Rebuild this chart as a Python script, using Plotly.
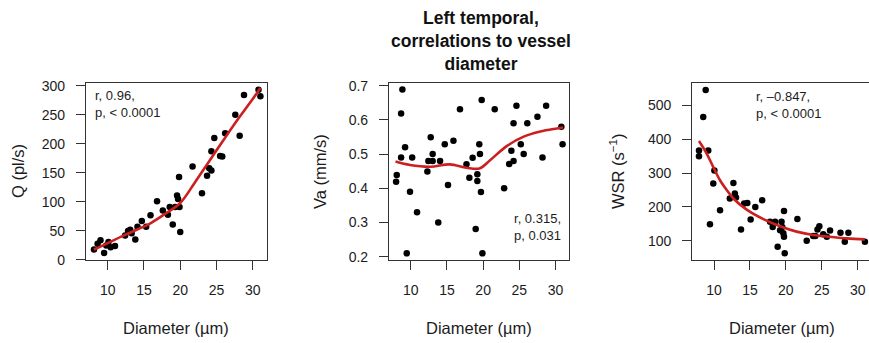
import plotly.graph_objects as go

# ---------------- data ----------------
diam_q = [8.1, 8.6, 9.0, 9.5, 9.8, 10.1, 10.4, 11.0, 12.4, 12.8, 13.1, 13.3, 13.8, 14.1,
          14.7, 15.3, 15.9, 16.8, 17.6, 18.3, 18.55, 18.97, 19.3, 19.56, 19.7, 19.84, 19.9,
          20.0, 21.7, 23.0, 23.7, 24.0, 24.3, 24.3, 24.7, 25.5, 25.8, 26.2, 27.6, 28.2,
          28.8, 30.8, 31.06]
q_vals = [18, 28, 34, 12, 25, 31, 22, 24, 42, 50, 52, 46, 35, 57,
          67, 57, 77, 101, 85, 78, 91, 61, 91, 111, 105, 143, 91,
          48, 161, 115, 145, 158, 187, 154, 210, 179, 178, 218, 250, 214,
          284, 293, 282]
fit_q_x = [8.1, 10, 12, 14, 16, 18, 20, 22, 24, 26, 28, 30, 31.06]
fit_q_y = [18, 29, 41, 52, 64, 80, 98, 133, 170, 207, 243, 277, 296]

diam_va = [7.98, 8.07, 8.85, 8.67, 9.22, 8.67, 9.45, 9.9, 10.2, 10.87, 12.3, 12.44, 12.76,
           13.03, 13.03, 14.05, 13.8, 14.7, 15.15, 15.9, 16.8, 17.7, 18.1, 18.55, 18.97,
           19.2, 19.2, 19.47, 19.56, 19.7, 19.8, 19.9, 21.6, 22.9, 23.6, 23.9, 24.2, 24.2,
           24.6, 25.2, 25.6, 26.1, 27.5, 28.2, 28.7, 30.8, 30.97]
va_vals = [0.419, 0.439, 0.689, 0.619, 0.52, 0.49, 0.21, 0.39, 0.49, 0.33, 0.449, 0.48, 0.549,
           0.50, 0.48, 0.48, 0.30, 0.529, 0.41, 0.539, 0.631, 0.47, 0.431, 0.489, 0.281,
           0.441, 0.421, 0.529, 0.50, 0.389, 0.658, 0.21, 0.631, 0.40, 0.471, 0.51, 0.59, 0.48,
           0.641, 0.529, 0.50, 0.59, 0.609, 0.49, 0.641, 0.58, 0.529]
fit_va_x = [7.9, 9.9, 12.7, 15.4, 17.7, 19.5, 21.0, 23.3, 25.6, 27.9, 30.2, 31.06]
fit_va_y = [0.478, 0.468, 0.463, 0.470, 0.460, 0.458, 0.483, 0.524, 0.551, 0.566, 0.575, 0.578]

diam_wsr = [7.91, 7.91, 8.5, 8.84, 9.2, 9.44, 9.9, 10.05, 10.84, 12.2, 12.7, 12.9, 13.06,
            13.76, 14.2, 14.64, 15.1, 15.75, 16.7, 17.8, 18.17, 18.5, 18.86, 19.2, 19.4,
            19.5, 19.65, 19.74, 19.84, 19.74, 21.6, 22.9, 23.8, 24.1, 24.4, 24.66, 25.2,
            25.7, 26.15, 27.6, 28.2, 28.7, 31.0]
wsr_vals = [350, 367, 466, 546, 367, 149, 269, 308, 190, 225, 271, 240, 228,
            133, 210, 212, 163, 200, 220, 156, 141, 156, 82, 131, 156,
            141, 122, 188, 63, 112, 164, 100, 114, 114, 133, 143, 119,
            112, 130, 124, 97, 124, 97]
fit_wsr_x = [7.91, 8.98, 9.9, 10.84, 11.77, 12.69, 14.55, 16.87, 19.19, 21.5, 23.8, 26.1, 28.5, 31.0]
fit_wsr_y = [395, 358, 318, 279, 250, 225, 192, 164, 143, 127, 117, 112, 107, 104]

x_ticks = [10, 15, 20, 25, 30]
q_ticks = [0, 50, 100, 150, 200, 250, 300]
va_ticks = [0.2, 0.3, 0.4, 0.5, 0.6, 0.7]
wsr_ticks = [100, 200, 300, 400, 500]

title_text = "Left temporal,<br>correlations to vessel<br>diameter"
x_title = "Diameter (µm)"
y_titles = ["Q (pl/s)", "Va (mm/s)", "WSR (s<sup>−1</sup>)"]
stats = ["r, 0.96,<br>p, < 0.0001", "r, 0.315,<br>p, 0.031", "r, –0.847,<br>p, < 0.0001"]

# ---------------- styling ----------------
W, H = 869, 343
FONT = "Liberation Sans, Arial, Helvetica, sans-serif"
INK = "#1c1c1c"
LINE = "#333333"
RED = "#cc2020"

def px_x(p):
    return p / W

def px_y(p):
    return 1 - p / H

ydom = [px_y(260.3), px_y(83.3)]
xdoms = [[px_x(86.0), px_x(266.7)], [px_x(389.0), px_x(569.3)], [px_x(692.3), 1.0]]
xranges = [[7.0, 31.93], [7.0, 31.9], [6.98, 31.57]]
yranges = [[-0.6, 304.1], [0.1895, 0.707], [42.2, 565.7]]
yticks = [q_ticks, va_ticks, wsr_ticks]

fig = go.Figure()

series = [
    (diam_q, q_vals, fit_q_x, fit_q_y),
    (diam_va, va_vals, fit_va_x, fit_va_y),
    (diam_wsr, wsr_vals, fit_wsr_x, fit_wsr_y),
]
for i, (dx, dy, fx, fy) in enumerate(series):
    sfx = "" if i == 0 else str(i + 1)
    fig.add_trace(go.Scatter(x=dx, y=dy, mode="markers", xaxis="x" + sfx, yaxis="y" + sfx,
                             marker=dict(color="#000000", size=6.5), showlegend=False,
                             cliponaxis=False))
    fig.add_trace(go.Scatter(x=fx, y=fy, mode="lines", xaxis="x" + sfx, yaxis="y" + sfx,
                             line=dict(color=RED, width=2.6, shape="spline", smoothing=1.0),
                             showlegend=False))

tickfont = dict(family=FONT, size=14, color=INK)
layout = dict(
    template="none",
    width=W, height=H, autosize=False,
    margin=dict(l=0, r=0, t=0, b=0, pad=0, autoexpand=False),
    paper_bgcolor="white", plot_bgcolor="white",
    showlegend=False,
)
for i in range(3):
    sfx = "" if i == 0 else str(i + 1)
    layout["xaxis" + sfx] = dict(
        domain=xdoms[i], range=xranges[i], anchor="y" + sfx, automargin=False,
        tickvals=x_ticks, ticks="outside", ticklen=9, tickwidth=1.2, tickcolor=LINE,
        showline=True, linecolor=LINE, linewidth=1.2, mirror=True,
        showgrid=False, zeroline=False, tickfont=tickfont, ticklabelstandoff=8,
        ticklabeloverflow="allow", fixedrange=True,
    )
    layout["yaxis" + sfx] = dict(
        domain=ydom, range=yranges[i], anchor="x" + sfx, automargin=False,
        tickvals=yticks[i], ticks="outside", ticklen=9, tickwidth=1.2, tickcolor=LINE,
        showline=True, linecolor=LINE, linewidth=1.2, mirror=(i != 2),
        showgrid=False, zeroline=False, tickfont=tickfont, ticklabelstandoff=8,
        ticklabeloverflow="allow", fixedrange=True,
    )
fig.update_layout(**layout)

annots = []
# title
annots.append(dict(text=title_text, xref="paper", yref="paper", x=px_x(481), y=px_y(41.0),
                   xanchor="center", yanchor="middle", align="center", showarrow=False,
                   font=dict(family=FONT, size=17.5, color="#111111", weight="bold")))
# axis titles
x_title_centers = [176.3, 479.2, 781.6]
y_title_centers = [17.5, 319.5, 616.5]
for i in range(3):
    annots.append(dict(text=x_title, xref="paper", yref="paper", x=px_x(x_title_centers[i]),
                       y=px_y(327.5), xanchor="center", yanchor="middle", showarrow=False,
                       font=dict(family=FONT, size=16.5, color=INK)))
    annots.append(dict(text=y_titles[i], xref="paper", yref="paper", x=px_x(y_title_centers[i]),
                       y=px_y(171.5), xanchor="center", yanchor="middle", showarrow=False,
                       textangle=-90, font=dict(family=FONT, size=16.5, color=INK)))
# statistics
annots.append(dict(text=stats[0], xref="x domain", yref="y domain", x=0.04, y=0.883,
                   xanchor="left", yanchor="middle", align="left", showarrow=False,
                   font=dict(family=FONT, size=13, color=INK)))
annots.append(dict(text=stats[1], xref="x2 domain", yref="y2 domain", x=0.967, y=0.19,
                   xanchor="right", yanchor="middle", align="right", showarrow=False,
                   font=dict(family=FONT, size=13, color=INK)))
annots.append(dict(text=stats[2], xref="x3 domain", yref="y3 domain", x=0.349, y=0.879,
                   xanchor="left", yanchor="middle", align="left", showarrow=False,
                   font=dict(family=FONT, size=13, color=INK)))
fig.update_layout(annotations=annots)

fig.write_html(
    "out.html", config={"displayModeBar": False},
    post_script="document.body.style.margin='0';document.body.style.overflow='hidden';"
                "document.documentElement.style.overflow='hidden';",
)
